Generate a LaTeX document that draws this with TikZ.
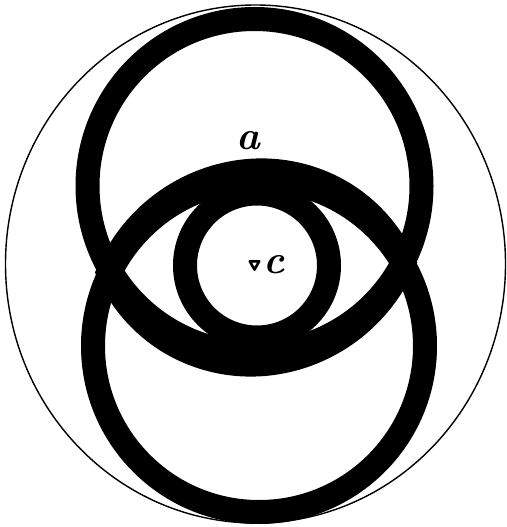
\documentclass[tikz,border=0pt]{standalone}
\begin{document}
\begin{tikzpicture}[x=1pt,y=1pt,
  ring/.style={draw=black,line width=24pt},
  thin/.style={draw=black,line width=1.4pt},
  lbl/.style={inner sep=0pt,font=\fontsize{40}{40}\selectfont\bfseries\itshape}]
\useasboundingbox (0,0) rectangle (506,-527);
% outer thin ellipse
\draw[thin] (255.5,-264) ellipse [x radius=250, y radius=259];
% two large rings
\draw[ring] (254.5,-186) circle [radius=167];
\draw[ring] (259,-346) circle [radius=166];
% eye (vesica)
\begin{scope}[shift={(256,-267.5)}, yslant=0.033]
  \draw[ring,line width=22pt,line join=miter]
    (-149,0) arc[start angle=156.6, end angle=23.4, radius=162.5]
    arc[start angle=-23.4, end angle=-156.6, radius=162.5] -- cycle;
\end{scope}
% inner circle
\draw[ring] (257,-265.5) circle [radius=72];
% centre marker
\draw[line width=2.6pt,line join=round] (249.8,-261.3) -- (259.2,-261.3) -- (254.5,-269.6) -- cycle;
% labels
\node[lbl] (a) at (248,-141) {a};
\node[lbl] (c) at (274,-265) {c};
\end{tikzpicture}
\end{document}
